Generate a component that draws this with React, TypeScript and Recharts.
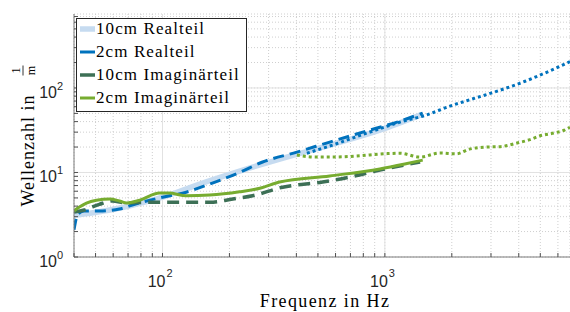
import React from "react";
import { LineChart, Line, XAxis, YAxis, CartesianGrid, ReferenceLine, Legend } from "recharts";

// Frequenz in Hz / Wellenzahl in 1/m
const real10F = [40, 47, 58, 73, 100, 147, 215, 362, 565, 949, 1440];
const real10K = [3.1, 3.3, 3.6, 4.1, 5.1, 7.3, 10.1, 15.2, 21.1, 31.7, 47.7];

const real2F = [40, 41.6, 44.5, 52, 64, 75, 100, 123, 170, 222, 282, 402, 565, 795, 1170, 1480];
const real2K = [2.1, 3.2, 3.5, 3.5, 3.7, 4.2, 5.1, 5.7, 7.6, 10.0, 13.3, 17.4, 22.9, 30, 40.5, 50.4];

const real2ExtF = [446, 601, 804, 1170, 1530, 1960, 2540, 3300, 4270, 5540, 6800];
const real2ExtK = [16.9, 21.7, 28.4, 39.4, 47.7, 60.9, 75.7, 94.2, 120, 160, 205];

const imag10F = [40, 44.5, 52, 59.5, 69, 87, 119, 163, 207, 254, 347, 525, 694, 949, 1440];
const imag10K = [3.4, 3.6, 4.2, 4.6, 4.35, 4.45, 4.45, 4.45, 4.85, 5.3, 6.7, 7.7, 8.8, 10.7, 13.3];

const imag2F = [40, 42.3, 45.5, 50.5, 58, 64, 69, 79, 97, 107, 128, 163, 222, 274, 336, 565, 949, 1230, 1480];
const imag2K = [3.5, 3.9, 4.35, 4.7, 4.85, 4.6, 4.35, 4.7, 5.7, 5.7, 5.3, 5.4, 5.9, 6.5, 7.7, 9.1, 11, 12.6, 14.0];

const imag2ExtF = [402, 484, 565, 732, 1020, 1170, 1440, 1770, 2100, 2400, 2880, 3300, 3930, 4500, 4960, 5750, 6400, 6800];
const imag2ExtK = [16.1, 15.2, 15.2, 15.6, 16.7, 16.9, 15.2, 17.0, 16.6, 18.9, 20.0, 20.2, 22.3, 24.5, 27.0, 29.3, 31.6, 34.3];

const xTicks = [40, 50, 60, 70, 80, 90, 100, 200, 300, 400, 500, 600, 700, 800, 900, 1000, 2000, 3000, 4000, 5000, 6000];
const yTicks = [1, 2, 3, 4, 5, 6, 7, 8, 9, 10, 20, 30, 40, 50, 60, 70, 80, 90, 100, 200, 300, 400, 500, 600, 700];
const xMajor = [100, 1000];
const yMajor = [10, 100];

const zip = (f: number[], k: number[]) => f.map((v, i) => ({ f: v, k: k[i] }));

const series = [
  { key: "r10", name: "10cm Realteil", data: zip(real10F, real10K), color: "#c6dbf0", width: 5.5, dash: undefined, legend: true },
  { key: "r2", name: "2cm Realteil", data: zip(real2F, real2K), color: "#0072bd", width: 3, dash: "11 6", legend: true },
  { key: "i10", name: "10cm Imaginärteil", data: zip(imag10F, imag10K), color: "#3d7056", width: 3.5, dash: "12 7", legend: true },
  { key: "i2", name: "2cm Imaginärteil", data: zip(imag2F, imag2K), color: "#77ac30", width: 3, dash: undefined, legend: true },
  { key: "r2x", name: "2cm Realteil Fit", data: zip(real2ExtF, real2ExtK), color: "#0072bd", width: 3, dash: "3 3", legend: false },
  { key: "i2x", name: "2cm Imaginärteil Fit", data: zip(imag2ExtF, imag2ExtK), color: "#77ac30", width: 3, dash: "3 3", legend: false },
];

const SERIF = "'Liberation Serif', 'DejaVu Serif', serif";
const SANS = "'Liberation Sans', Arial, sans-serif";
const AXIS = "#7a7a7a";
const TICK = "#505050";

const isMajor = (v: number) => Math.abs(Math.log10(v) - Math.round(Math.log10(v))) < 1e-9;

const XTick = (props: any) => {
  const { x, y, payload } = props;
  const v = payload.value;
  return (
    <g>
      <line x1={x} x2={x} y1={y} y2={y - 4} stroke={TICK} />
      {isMajor(v) && (
        <g fontFamily={SANS} fill="#262626">
          <text x={x + 3} y={y + 30} textAnchor="end" fontSize={16}>10</text>
          <text x={x + 4} y={y + 20} fontSize={11}>{Math.round(Math.log10(v))}</text>
        </g>
      )}
    </g>
  );
};

const TopTick = (props: any) => {
  const { x, y } = props;
  return <line x1={x} x2={x} y1={y} y2={y + 4} stroke={TICK} />;
};

const YTick = (props: any) => {
  const { x, y, payload } = props;
  const v = payload.value;
  return (
    <g>
      <line x1={x} x2={x + 4} y1={y} y2={y} stroke={TICK} />
      {isMajor(v) && (
        <g fontFamily={SANS} fill="#262626">
          <text x={x - 17} y={y + 10} textAnchor="end" fontSize={16}>10</text>
          <text x={x - 17} y={y + 2} fontSize={11}>{Math.round(Math.log10(v))}</text>
        </g>
      )}
    </g>
  );
};

const YLabel = (props: any) => {
  const vb = props.viewBox;
  const cy = vb.y + vb.height / 2;
  return (
    <g transform={`translate(34, ${cy}) rotate(-90)`} fontFamily={SERIF} fill="#000">
      <text x={-71} y={0} fontSize={18} letterSpacing={1}>Wellenzahl in</text>
      <text x={65} y={-14} fontSize={12} textAnchor="middle">1</text>
      <line x1={60} x2={70} y1={-11} y2={-11} stroke="#000" strokeWidth={0.8} />
      <text x={65} y={1} fontSize={12} textAnchor="middle">m</text>
    </g>
  );
};

const XLabel = (props: any) => {
  const vb = props.viewBox;
  return (
    <text x={vb.x + vb.width / 2 + 3} y={307} textAnchor="middle" fontFamily={SERIF} fontSize={18} letterSpacing={1.4} fill="#000">
      Frequenz in Hz
    </text>
  );
};

const LegendBox = () => {
  const items = series.filter((s) => s.legend);
  return (
    <svg width={172} height={95} style={{ display: "block" }}>
      <rect x={0.5} y={0.5} width={170} height={93} fill="#fff" stroke="#262626" />
      {items.map((s, i) => (
        <g key={s.key}>
          <line x1={4} x2={19} y1={11 + i * 23} y2={11 + i * 23} stroke={s.color} strokeWidth={s.width} />
          <text x={20} y={16 + i * 23} fontFamily={SERIF} fontSize={17} letterSpacing={1.1} fill="#000">
            {s.name}
          </text>
        </g>
      ))}
    </svg>
  );
};

export default function App() {
  return (
    <div style={{ position: "absolute", left: 0, top: 0, width: 570, height: 312, background: "#fff" }}>
      <LineChart width={570} height={312} margin={{ top: 14, right: 0, bottom: 0, left: 0 }}>
        <CartesianGrid stroke="#cfcfcf" strokeDasharray="1 2" />
        {xMajor.map((v) => (
          <ReferenceLine key={"x" + v} x={v} stroke="#e2e2e2" strokeWidth={1} />
        ))}
        {yMajor.map((v) => (
          <ReferenceLine key={"y" + v} y={v} stroke="#e2e2e2" strokeWidth={1} />
        ))}
        <XAxis
          type="number"
          dataKey="f"
          scale="log"
          domain={[40, 6800]}
          allowDataOverflow
          ticks={xTicks}
          interval={0}
          height={55}
          tickSize={0}
          tickMargin={0}
          tickLine={false}
          axisLine={{ stroke: AXIS }}
          tick={XTick}
          label={{ content: XLabel }}
        />
        <XAxis
          xAxisId="top"
          orientation="top"
          type="number"
          dataKey="f"
          scale="log"
          domain={[40, 6800]}
          allowDataOverflow
          ticks={xTicks}
          interval={0}
          height={0}
          tickSize={0}
          tickMargin={0}
          tickLine={false}
          axisLine={{ stroke: AXIS }}
          tick={TopTick}
        />
        <YAxis
          type="number"
          scale="log"
          domain={[1, 750]}
          allowDataOverflow
          ticks={yTicks}
          interval={0}
          width={74}
          tickSize={0}
          tickMargin={0}
          tickLine={false}
          axisLine={{ stroke: AXIS }}
          tick={YTick}
          label={{ content: YLabel }}
        />
        {series.map((s) => (
          <Line
            key={s.key}
            data={s.data}
            dataKey="k"
            name={s.name}
            type="monotone"
            stroke={s.color}
            strokeWidth={s.width}
            strokeDasharray={s.dash}
            strokeLinecap="butt"
            dot={false}
            activeDot={false}
            isAnimationActive={false}
          />
        ))}
        <Legend
          layout="vertical"
          align="center"
          verticalAlign="middle"
          content={LegendBox}
          wrapperStyle={{ left: 76, top: 18, width: 172, height: 95 }}
        />
      </LineChart>
    </div>
  );
}
